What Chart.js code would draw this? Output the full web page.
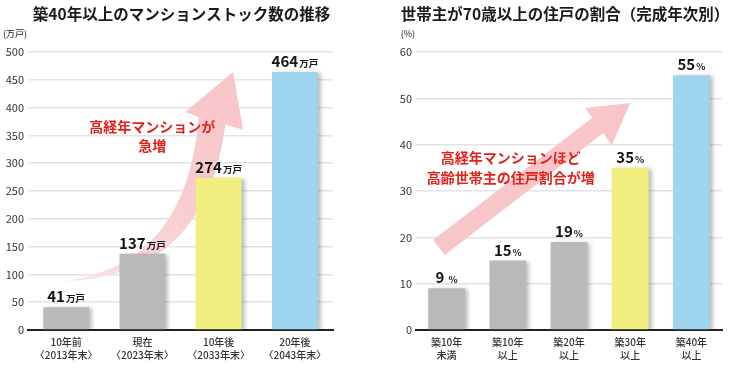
<!DOCTYPE html>
<html lang="ja">
<head>
<meta charset="utf-8">
<script src="https://cdn.jsdelivr.net/npm/chart.js@4.4.1/dist/chart.umd.min.js"></script>
<style>
  body { margin: 0; background: #fff; }
  canvas { position: absolute; top: 0; }
</style>
</head>
<body>
<canvas id="stock-chart" width="365" height="372" style="left:0"></canvas>
<canvas id="ratio-chart" width="365" height="372" style="left:365px"></canvas>
<script>
// --- data ---
const stockLabels = [['10年前', '〈2013年末〉'], ['現在', '〈2023年末〉'], ['10年後', '〈2033年末〉'], ['20年後', '〈2043年末〉']];
const stockValues = [41, 137, 274, 464];
const stockTicks = [0, 50, 100, 150, 200, 250, 300, 350, 400, 450, 500];

const ratioLabels = [['築10年', '未満'], ['築10年', '以上'], ['築20年', '以上'], ['築30年', '以上'], ['築40年', '以上']];
const ratioValues = [9, 15, 19, 35, 55];
const ratioTicks = [0, 10, 20, 30, 40, 50, 60];

const GRAY = '#b9b9b9', YELLOW = '#f1ee80', BLUE = '#9fd5ef';
const FONT = "'Noto Sans CJK JP', 'Noto Sans', sans-serif";

Chart.defaults.font.family = FONT;
Chart.defaults.color = '#333';
Chart.defaults.animation = false;

// pixel position of (category index, value) on the chart's own scales
function pt(chart, i, v) {
  return [chart.scales.x.getPixelForValue(i), chart.scales.y.getPixelForValue(v)];
}

// title above the plot + unit label above the y axis
const headerPlugin = {
  id: 'header',
  afterDraw(chart, args, opts) {
    const { ctx, chartArea } = chart;
    ctx.save();
    ctx.fillStyle = '#1a1a1a';
    ctx.textBaseline = 'middle';
    ctx.textAlign = 'center';
    ctx.font = `bold 15.5px ${FONT}`;
    ctx.fillText(opts.title, (chartArea.left + chartArea.right) / 2 + (opts.shift || 0), 14);
    ctx.font = `9px ${FONT}`;
    ctx.textAlign = 'right';
    ctx.fillText(opts.unit, chartArea.left - 1, 34);
    ctx.restore();
  }
};

// pink arrow + red caption, behind the bars
const arrowPlugin = {
  id: 'arrow',
  beforeDatasetsDraw(chart, args, opts) {
    const ctx = chart.ctx;
    const p = (i, v) => pt(chart, i, v);
    ctx.save();
    ctx.beginPath();
    opts.shape(ctx, p);
    ctx.closePath();
    if (opts.gradient) {
      const [a, b] = opts.gradient;
      const g = ctx.createLinearGradient(...p(...a), ...p(...b));
      g.addColorStop(0, '#fce3e4');
      g.addColorStop(0.5, '#f9cdd0');
      g.addColorStop(1, '#f8c4c8');
      ctx.fillStyle = g;
    } else {
      ctx.fillStyle = '#f8c6c9';
    }
    ctx.fill();
    ctx.fillStyle = '#e3221c';
    ctx.font = `bold 14px ${FONT}`;
    ctx.textAlign = 'center';
    ctx.textBaseline = 'middle';
    opts.caption.forEach(([text, i, v]) => ctx.fillText(text, ...p(i, v)));
    ctx.restore();
  }
};

// soft drop shadow on the bars
const shadowPlugin = {
  id: 'barShadow',
  beforeDatasetsDraw(chart) {
    const ctx = chart.ctx;
    ctx.save();
    ctx.shadowColor = 'rgba(0,0,0,0.25)';
    ctx.shadowBlur = 4;
    ctx.shadowOffsetX = 3;
    ctx.shadowOffsetY = 1;
  },
  afterDatasetsDraw(chart) {
    chart.ctx.restore();
  }
};

// "464万戸" style value labels
const valueLabelPlugin = {
  id: 'valueLabel',
  afterDatasetsDraw(chart, args, opts) {
    const { ctx } = chart;
    const values = chart.data.datasets[0].data;
    ctx.save();
    ctx.fillStyle = '#151515';
    ctx.textAlign = 'left';
    ctx.textBaseline = 'alphabetic';
    chart.getDatasetMeta(0).data.forEach((bar, i) => {
      const num = String(values[i]);
      ctx.font = `bold 15px ${FONT}`;
      const nw = ctx.measureText(num).width;
      ctx.font = `bold 9.5px ${FONT}`;
      const uw = ctx.measureText(opts.unit).width;
      const gap = values[i] < 10 ? 4 : 1;
      const x = bar.x - (nw + gap + uw) / 2;
      const y = bar.y - 5;
      ctx.font = `bold 15px ${FONT}`;
      ctx.fillText(num, x, y);
      ctx.font = `bold 9.5px ${FONT}`;
      ctx.fillText(opts.unit, x + nw + gap, y);
    });
    ctx.restore();
  }
};

function barChart(id, labels, values, colors, ticks, cfg) {
  return new Chart(document.getElementById(id), {
    type: 'bar',
    data: {
      labels: labels,
      datasets: [{
        data: values,
        backgroundColor: colors,
        borderWidth: 0,
        barPercentage: 0.6,
        categoryPercentage: 1.0
      }]
    },
    options: {
      responsive: false,
      layout: { padding: { top: 52, right: cfg.padRight, left: 0, bottom: 0 } },
      scales: {
        x: {
          grid: { display: false, drawTicks: false },
          border: { display: true, color: '#222', width: 2 },
          ticks: {
            font: { size: 10, weight: 500, lineHeight: 1.25 },
            color: '#333', padding: 6, maxRotation: 0, autoSkip: false
          },
          afterFit: s => { s.height = 42; }
        },
        y: {
          min: ticks[0],
          max: ticks[ticks.length - 1],
          afterBuildTicks: s => { s.ticks = ticks.map(v => ({ value: v })); },
          grid: {
            color: c => (c.tick && c.tick.value === 0 ? 'rgba(0,0,0,0)' : '#e3e3e3'),
            lineWidth: 1.5,
            drawTicks: false
          },
          border: { display: false },
          ticks: { font: { size: 11 }, color: '#333', padding: 4 },
          afterFit: s => { s.width = cfg.axisWidth; }
        }
      },
      plugins: {
        legend: { display: false },
        tooltip: { enabled: false },
        header: cfg.header,
        arrow: cfg.arrow,
        valueLabel: { unit: cfg.unit }
      }
    },
    plugins: [headerPlugin, arrowPlugin, shadowPlugin, valueLabelPlugin]
  });
}

const stockChart = barChart('stock-chart', stockLabels, stockValues, [GRAY, GRAY, YELLOW, BLUE], stockTicks, {
  padRight: 32,
  axisWidth: 28,
  unit: '万戸',
  header: { title: '築40年以上のマンションストック数の推移', unit: '(万戸)', shift: 1 },
  arrow: {
    gradient: [[0, 88], [2.19, 464]],
    shape: (ctx, p) => {
      ctx.moveTo(...p(-0.01, 88));
      ctx.quadraticCurveTo(...p(1.58, 118), ...p(1.74, 383));
      ctx.lineTo(...p(1.56, 392));
      ctx.lineTo(...p(2.19, 464));
      ctx.lineTo(...p(2.32, 360));
      ctx.lineTo(...p(2.09, 369));
      ctx.quadraticCurveTo(...p(1.82, 95), ...p(-0.01, 88));
    },
    caption: [['高経年マンションが', 1.13, 365], ['急増', 1.13, 331]]
  }
});

const ratioChart = barChart('ratio-chart', ratioLabels, ratioValues, [GRAY, GRAY, GRAY, YELLOW, BLUE], ratioTicks, {
  padRight: 8,
  axisWidth: 51,
  unit: '%',
  header: { title: '世帯主が70歳以上の住戸の割合（完成年次別）', unit: '(%)', shift: -4 },
  arrow: {
    shape: (ctx, p) => {
      ctx.moveTo(...p(-0.22, 19.4));
      ctx.lineTo(...p(2.38, 45.8));
      ctx.lineTo(...p(2.26, 47.9));
      ctx.lineTo(...p(3.0, 49.0));
      ctx.lineTo(...p(2.70, 39.9));
      ctx.lineTo(...p(2.56, 42.5));
      ctx.lineTo(...p(-0.03, 16.2));
    },
    caption: [['高経年マンションほど', 1.05, 37.1], ['高齢世帯主の住戸割合が増', 1.05, 32.8]]
  }
});
</script>
</body>
</html>
